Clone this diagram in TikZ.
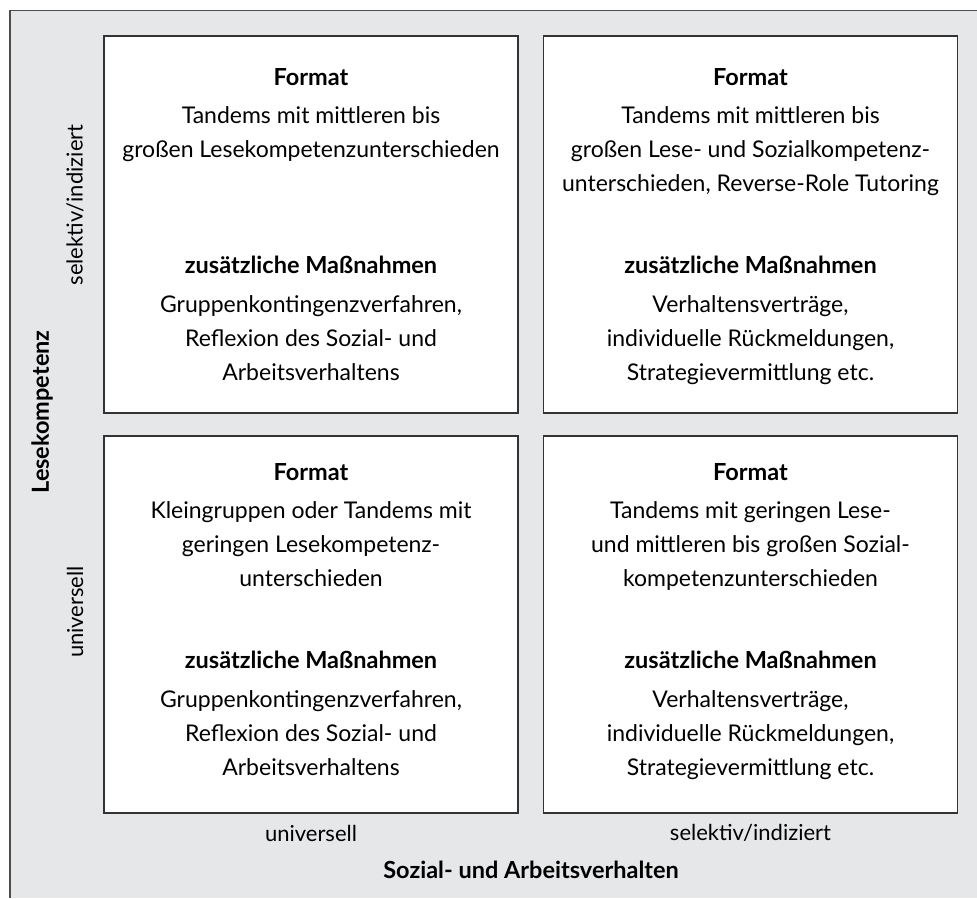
\documentclass[tikz,border=0pt]{standalone}
\usepackage{fontspec}
\setmainfont{Lato}
\usepackage{tikz}
\definecolor{panelGray}{HTML}{E6E7E8}
\definecolor{frameGray}{HTML}{4D4D4D}
\definecolor{boxLine}{HTML}{333333}

\tikzset{
  quadrant/.style={draw=boxLine, line width=1.6pt, fill=white, minimum width=414pt, minimum height=377pt, inner sep=0pt},
  heading/.style={font=\bfseries\fontsize{23.5}{34}\selectfont, inner sep=0pt, anchor=base},
  bodytext/.style={font=\fontsize{23}{34}\selectfont, align=center, inner sep=0pt, anchor=north},
  axislabel/.style={font=\fontsize{22}{26}\selectfont, inner sep=0pt},
  axistitle/.style={font=\bfseries\fontsize{23.5}{26}\selectfont, inner sep=0pt},
}

\begin{document}
\begin{tikzpicture}[x=1pt, y=1pt]
  \useasboundingbox (0,0) rectangle (977,-898);
  \fill[white] (0,0) rectangle (977,-898);
  % grey panel, cut off at the right and bottom
  \fill[panelGray] (10,-10.5) rectangle (977,-898);
  \draw[frameGray, line width=1.8pt] (10,-898) |- (977,-10.5);

  % the four quadrants
  \foreach \q/\cx/\ty/\dy/\fmttext/\addtext in {
      tl/311/35/0/{Tandems mit mittleren bis\\großen Lesekompetenzunterschieden}/{Gruppenkontingenzverfahren,\\Reflexion des Sozial- und\\Arbeitsverhaltens},
      tr/750.5/35/0/{Tandems mit mittleren bis\\großen Lese- und Sozialkompetenz-\\unterschieden, Reverse-Role Tutoring}/{Verhaltensverträge,\\individuelle Rückmeldungen,\\Strategievermittlung etc.},
      bl/311/435/5/{Kleingruppen oder Tandems mit\\geringen Lesekompetenz-\\unterschieden}/{Gruppenkontingenzverfahren,\\Reflexion des Sozial- und\\Arbeitsverhaltens},
      br/750.5/435/5/{Tandems mit geringen Lese-\\und mittleren bis großen Sozial-\\kompetenzunterschieden}/{Verhaltensverträge,\\individuelle Rückmeldungen,\\Strategievermittlung etc.}}{
    \node[quadrant, anchor=north] (box-\q) at (\cx,-\ty) {};
    \node[heading] (fmt-\q) at ([yshift=-50pt+\dy pt]box-\q.north) {Format};
    \node[bodytext] (fmtbody-\q) at ([yshift=-71pt+\dy pt]box-\q.north) {\fmttext};
    \node[heading] (add-\q) at ([yshift=-238pt+\dy pt]box-\q.north) {zusätzliche Maßnahmen};
    \node[bodytext] (addbody-\q) at ([yshift=-260pt+\dy pt]box-\q.north) {\addtext};
  }

  % axis labels
  \node[axistitle, rotate=90] (yaxis) at (42,-412) {Lesekompetenz};
  \node[axislabel, rotate=90] (yhigh) at (75,-205) {selektiv/indiziert};
  \node[axislabel, rotate=90] (ylow) at (75,-612) {universell};
  \node[axislabel] (xlow) at (311,-833) {universell};
  \node[axislabel] (xhigh) at (750.5,-833) {selektiv/indiziert};
  \node[axistitle] (xaxis) at (531,-870) {Sozial- und Arbeitsverhalten};
\end{tikzpicture}
\end{document}
